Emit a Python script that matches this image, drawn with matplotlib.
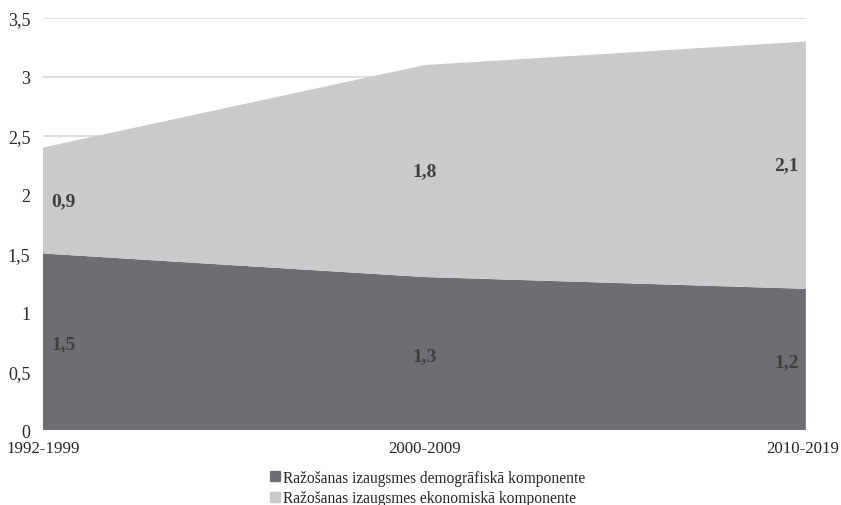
import matplotlib
matplotlib.use("Agg")
import matplotlib.pyplot as plt
import matplotlib.transforms as mtransforms
from matplotlib.lines import Line2D

# data
periods = ["1992-1999", "2000-2009", "2010-2019"]
demographic = [1.5, 1.3, 1.2]
economic = [0.9, 1.8, 2.1]
series_names = [
    "Ražošanas izaugsmes demogrāfiskā komponente",
    "Ražošanas izaugsmes ekonomiskā komponente",
]
y_ticks = [0, 0.5, 1, 1.5, 2, 2.5, 3, 3.5]

DARK = "#6d6e71"
LIGHT = "#c9cacc"
GRID = "#d9d9d9"
TEXT = "#262626"
LABEL = "#3f3f3f"

plt.rcParams["font.family"] = ["Liberation Serif", "DejaVu Serif"]

fig = plt.figure(figsize=(8.41, 5.06), dpi=100)
ax = fig.add_axes([0.0511, 0.148, 0.9071, 0.8145])

x = list(range(len(periods)))
ax.stackplot(x, demographic, economic, colors=[DARK, LIGHT], zorder=2)

ax.set_xlim(0, len(periods) - 1)
ax.set_ylim(0, 3.5)
ax.set_yticks(y_ticks)
ax.set_yticklabels([f"{v:g}".replace(".", ",") for v in y_ticks])
ax.set_xticks(x)
ax.set_xticklabels(periods)
ax.tick_params(length=0, colors=TEXT)
ax.tick_params(axis="y", pad=9, labelsize=13)
ax.tick_params(axis="x", pad=7, labelsize=12.2)
ax.grid(True, axis="y", color=GRID, linewidth=1.2, zorder=0)
ax.set_axisbelow(True)
for side in ax.spines:
    ax.spines[side].set_visible(False)

# keep the last period label inside the figure
last = ax.get_xticklabels()[-1]
last.set_transform(last.get_transform()
                   + mtransforms.ScaledTranslation(-0.03, 0, fig.dpi_scale_trans))

# data labels at the middle of each band
n = len(periods)
for i in range(n):
    if i == 0:
        off = 15
    elif i == n - 1:
        off = -14
    else:
        off = 0
    d = demographic[i]
    e = economic[i]
    for val, ymid in ((d, d / 2 - 0.02), (e, d + e / 2)):
        ax.annotate(
            f"{val:g}".replace(".", ","),
            xy=(i, ymid),
            xytext=(off, 0),
            textcoords="offset points",
            ha="center",
            va="center",
            fontsize=14,
            fontweight="bold",
            color=LABEL,
            zorder=5,
        )

handles = [
    Line2D([], [], linestyle="none", marker="s", markersize=7, color=c)
    for c in (DARK, LIGHT)
]
fig.legend(
    handles,
    series_names,
    loc="upper center",
    bbox_to_anchor=(0.508, 0.085),
    ncol=1,
    frameon=False,
    fontsize=11.2,
    handletextpad=0.1,
    handlelength=0.8,
    labelspacing=0.3,
    borderpad=0,
    labelcolor=TEXT,
)

fig.savefig("out.png", dpi=100, facecolor="white")
